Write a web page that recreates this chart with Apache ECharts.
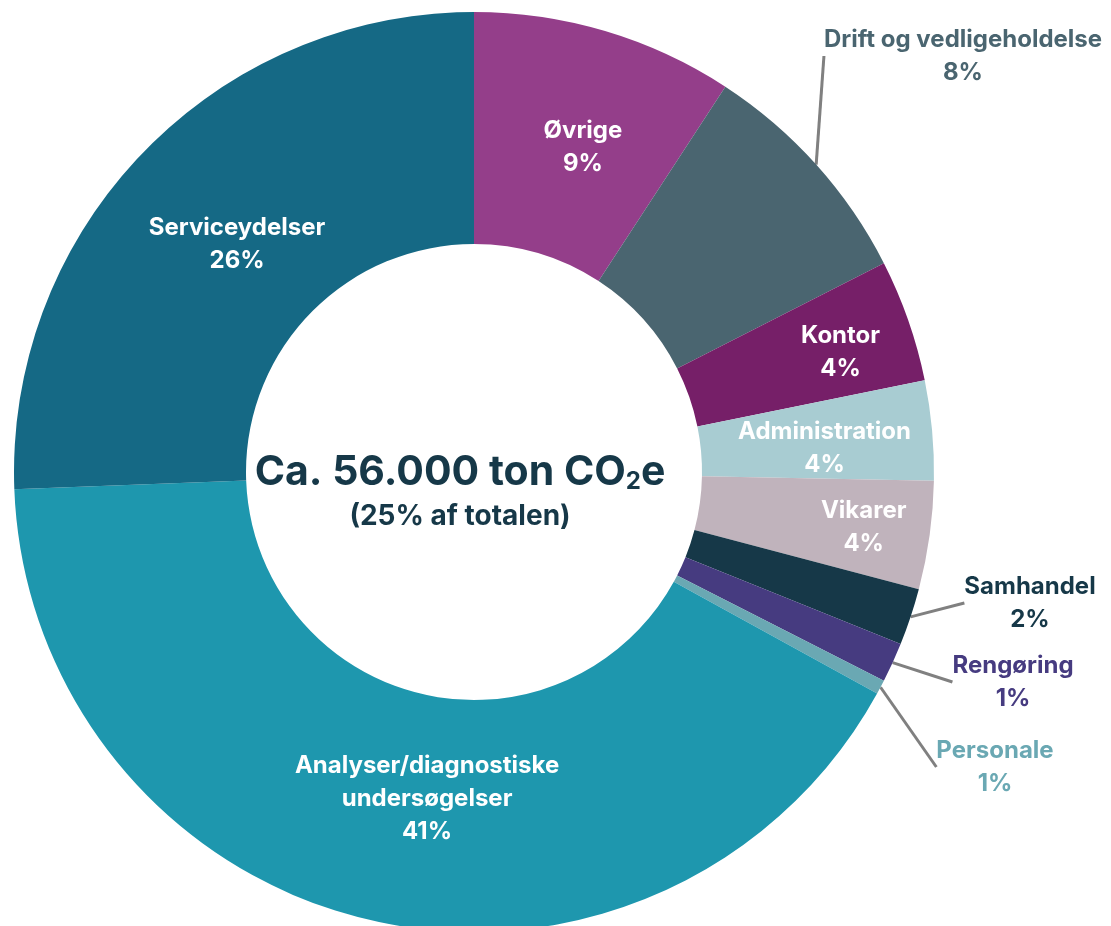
<!DOCTYPE html>
<html>
<head>
<meta charset="utf-8">
<script src="https://cdn.jsdelivr.net/npm/echarts@6/dist/echarts.min.js"></script>
<style>
  html, body { margin: 0; padding: 0; background: #fff; }
  #chart { width: 1111px; height: 926px; }
</style>
</head>
<body>
<div id="chart"></div>
<script>
// kategorier og andele (%)
var categories = ['Øvrige', 'Drift og vedligeholdelse', 'Kontor', 'Administration', 'Vikarer',
  'Samhandel', 'Rengøring', 'Personale', 'Analyser/diagnostiske\nundersøgelser', 'Serviceydelser'];
var shares = [9.2, 8.3, 4.3, 3.5, 3.8, 2.0, 1.4, 0.5, 41.4, 25.6];
var colors = ['#943e8a', '#4a6570', '#761f68', '#a8ccd2', '#c0b3bc',
  '#163848', '#463b80', '#6aa8b3', '#1e97ae', '#156985'];
var outside = ['Drift og vedligeholdelse', 'Samhandel', 'Rengøring', 'Personale'];

var font = 'Inter';
var myChart = echarts.init(document.getElementById('chart'));

var data = categories.map(function (name, i) {
  var item = { name: name, value: shares[i], itemStyle: { color: colors[i] } };
  if (outside.indexOf(name) >= 0) {
    item.label = { position: 'outside', color: colors[i] };
    item.labelLine = { show: true };
  }
  return item;
});

// placering af de eksterne etiketter
var labelSpots = {
  1: [963, 56],
  5: [1030, 603],
  6: [1013, 682],
  7: [995, 767]
};
// små forskydninger af de indre etiketter
var labelShift = {
  0: [10, 8],
  2: [39, -5],
  3: [5, 8],
  4: [46, 7],
  8: [33, -11],
  9: [13, 13]
};

var option = {
  title: {
    text: '{a|Ca. 56.000 ton CO}{s|2}{a|e}\n{b|(25% af totalen)}',
    left: 455,
    top: 444,
    textAlign: 'center',
    textStyle: {
      rich: {
        a: { fontFamily: font, fontWeight: 'bold', fontSize: 41, color: '#163848', lineHeight: 48 },
        s: { fontFamily: font, fontWeight: 'bold', fontSize: 24, color: '#163848', padding: [18, 0, 0, 0], lineHeight: 48 },
        b: { fontFamily: font, fontWeight: 'bold', fontSize: 28, color: '#163848', lineHeight: 40 }
      }
    }
  },
  series: [{
    type: 'pie',
    center: [474, 472],
    radius: [228, 460],
    startAngle: 90,
    clockwise: true,
    avoidLabelOverlap: false,
    data: data,
    label: {
      show: true,
      position: 'inside',
      color: '#fff',
      fontFamily: font,
      fontWeight: 'bold',
      fontSize: 24,
      lineHeight: 33,
      align: 'center',
      formatter: function (p) { return p.name + '\n' + Math.round(p.value) + '%'; }
    },
    labelLine: {
      show: false,
      length: 20,
      length2: 0,
      lineStyle: { color: '#808080', width: 3 }
    },
    labelLayout: function (p) {
      var s = labelSpots[p.dataIndex];
      if (s) return { x: s[0], y: s[1], align: 'center', verticalAlign: 'middle' };
      var d = labelShift[p.dataIndex];
      if (d) return { dx: d[0], dy: d[1] };
      return {};
    }
  }]
};

myChart.setOption(option);
</script>
</body>
</html>
